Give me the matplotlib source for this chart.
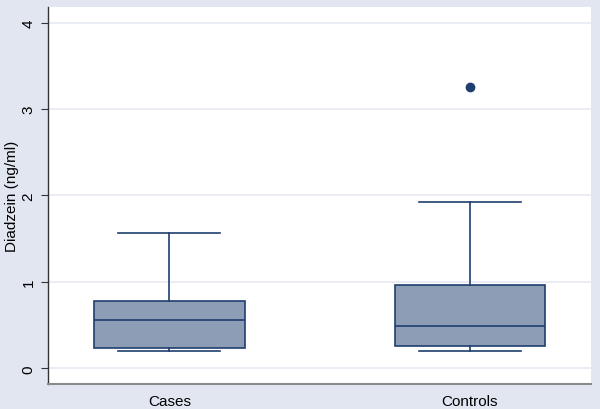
import matplotlib
matplotlib.use("Agg")
import matplotlib.pyplot as plt

categories = ["Cases", "Controls"]
q1 = [0.236, 0.256]
median = [0.56, 0.49]
q3 = [0.78, 0.96]
whislo = [0.197, 0.205]
whishi = [1.57, 1.92]
fliers = [[], [3.25]]
yticks = [0, 1, 2, 3, 4]

plt.rcParams['font.family'] = ['Liberation Sans', 'DejaVu Sans']

bg = '#E1E6F0'
navy = '#1F3F6E'
fill = '#8E9DB6'
grid = '#E6EAF2'

fig = plt.figure(figsize=(6, 4.1), dpi=100, facecolor=bg)
ax = fig.add_axes([0.08, 0.061, 0.905, 0.9195])
ax.set_facecolor('white')

stats = []
for i, c in enumerate(categories):
    stats.append(dict(label=c, q1=q1[i], med=median[i], q3=q3[i],
                      whislo=whislo[i], whishi=whishi[i], fliers=fliers[i]))

ax.bxp(stats, positions=[1, 2], widths=0.5, capwidths=0.34, patch_artist=True,
       boxprops=dict(facecolor=fill, edgecolor=navy, linewidth=1.2),
       medianprops=dict(color=navy, linewidth=1.2),
       whiskerprops=dict(color=navy, linewidth=1.2),
       capprops=dict(color=navy, linewidth=1.2),
       flierprops=dict(marker='o', markerfacecolor=navy, markeredgecolor=navy, markersize=6),
       zorder=3)

ax.set_xlim(0.596, 2.403)
ax.set_ylim(-0.18, 4.18)
ax.set_yticks(yticks)
ax.set_yticklabels([str(t) for t in yticks], rotation=90, va='center', fontsize=11)
ax.yaxis.grid(True, color=grid, linewidth=1.2, zorder=0)
ax.set_axisbelow(True)
ax.tick_params(axis='y', length=5, width=0.8, color='#333333', pad=4)
ax.tick_params(axis='x', length=0, labelsize=11, pad=7)
ax.set_ylabel('Diadzein (ng/ml)', fontsize=11, labelpad=2)

for s in ['top', 'right']:
    ax.spines[s].set_visible(False)
ax.spines['left'].set_color('#333333')
ax.spines['left'].set_linewidth(1.0)
ax.spines['bottom'].set_color('#8A8A8A')
ax.spines['bottom'].set_linewidth(1.5)

fig.savefig('out.png', dpi=100, facecolor=bg)
